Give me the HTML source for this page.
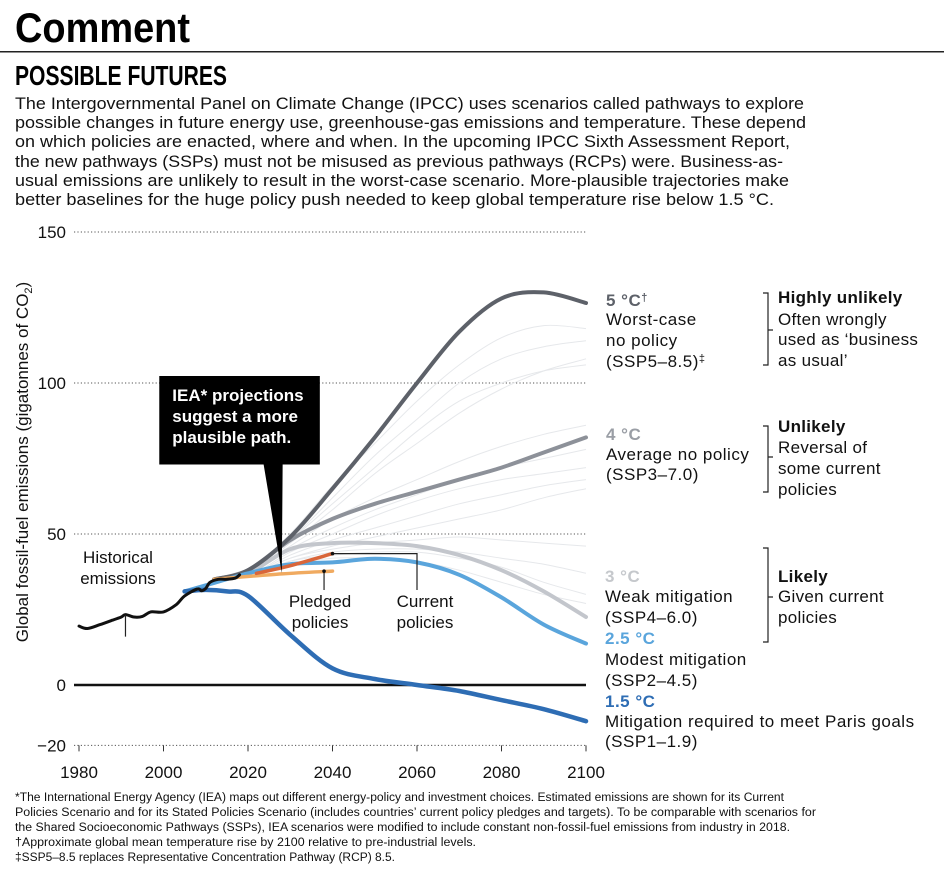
<!DOCTYPE html>
<html><head><meta charset="utf-8"><style>
html,body{margin:0;padding:0;background:#fff;}
svg{display:block;font-family:"Liberation Sans",sans-serif;}
</style></head><body>
<svg id="c" width="944" height="872" viewBox="0 0 944 872">
<text x="15" y="42" font-size="42" font-weight="bold" textLength="175" lengthAdjust="spacingAndGlyphs">Comment</text>
<rect x="0" y="51" width="944" height="1.5" fill="#222"/>
<text x="15" y="85" font-size="28" font-weight="bold" textLength="212" lengthAdjust="spacingAndGlyphs">POSSIBLE FUTURES</text>
<g font-size="17" fill="#111">
<text x="15" y="109" textLength="789" lengthAdjust="spacingAndGlyphs">The Intergovernmental Panel on Climate Change (IPCC) uses scenarios called pathways to explore</text>
<text x="15" y="128" textLength="791" lengthAdjust="spacingAndGlyphs">possible changes in future energy use, greenhouse-gas emissions and temperature. These depend</text>
<text x="15" y="147" textLength="775" lengthAdjust="spacingAndGlyphs">on which policies are enacted, where and when. In the upcoming IPCC Sixth Assessment Report,</text>
<text x="15" y="167" textLength="768" lengthAdjust="spacingAndGlyphs">the new pathways (SSPs) must not be misused as previous pathways (RCPs) were. Business-as-</text>
<text x="15" y="186" textLength="774" lengthAdjust="spacingAndGlyphs">usual emissions are unlikely to result in the worst-case scenario. More-plausible trajectories make</text>
<text x="15" y="205" textLength="759" lengthAdjust="spacingAndGlyphs">better baselines for the huge policy push needed to keep global temperature rise below 1.5 °C.</text>
</g>
<g id="grid"></g>
<g id="thin"></g>
<g id="main"></g>
<g id="ann"></g>
<text transform="translate(28,462) rotate(-90)" text-anchor="middle" font-size="17" fill="#111">Global fossil-fuel emissions (gigatonnes of CO<tspan font-size="11" dy="4">2</tspan><tspan dy="-4">)</tspan></text>

<g font-size="17" letter-spacing="0.5" fill="#111">
<text x="606" y="306" font-weight="bold" fill="#5d6169">5 °C<tspan font-size="11" dy="-5">†</tspan></text>
<text x="606" y="325">Worst-case</text><text x="606" y="346">no policy</text><text x="606" y="367">(SSP5–8.5)<tspan font-size="11" dy="-5">‡</tspan></text>
<text x="606" y="440" font-weight="bold" fill="#9a9ea5">4 °C</text>
<text x="606" y="460">Average no policy</text><text x="606" y="480">(SSP3–7.0)</text>
<text x="605" y="582" font-weight="bold" fill="#c5c8cc">3 °C</text>
<text x="605" y="602">Weak mitigation</text><text x="605" y="623">(SSP4–6.0)</text>
<text x="605" y="644" font-weight="bold" fill="#5aa5dc">2.5 °C</text>
<text x="605" y="665">Modest mitigation</text><text x="605" y="686">(SSP2–4.5)</text>
<text x="605" y="707" font-weight="bold" fill="#2e6db4">1.5 °C</text>
<text x="605" y="727">Mitigation required to meet Paris goals</text><text x="605" y="747">(SSP1–1.9)</text>
</g>
<g font-size="17" letter-spacing="0.3" fill="#111">
<text x="778" y="303" font-weight="bold">Highly unlikely</text>
<text x="778" y="325">Often wrongly</text><text x="778" y="345">used as ‘business</text><text x="778" y="366">as usual’</text>
<text x="778" y="432" font-weight="bold">Unlikely</text>
<text x="778" y="453">Reversal of</text><text x="778" y="474">some current</text><text x="778" y="495">policies</text>
<text x="778" y="582" font-weight="bold">Likely</text>
<text x="778" y="602">Given current</text><text x="778" y="623">policies</text>
</g>
<g fill="none" stroke="#222" stroke-width="1.2">
<path d="M763 293H768V365H763M768 330H773"/>
<path d="M763 426H768V492H763M768 457H773"/>
<path d="M763 548H768V642H763M768 597H773"/>
</g>
<g font-size="11.5" fill="#111">
<text x="15" y="801" textLength="769" lengthAdjust="spacingAndGlyphs">*The International Energy Agency (IEA) maps out different energy-policy and investment choices. Estimated emissions are shown for its Current</text>
<text x="15" y="816" textLength="801" lengthAdjust="spacingAndGlyphs">Policies Scenario and for its Stated Policies Scenario (includes countries’ current policy pledges and targets). To be comparable with scenarios for</text>
<text x="15" y="831" textLength="775" lengthAdjust="spacingAndGlyphs">the Shared Socioeconomic Pathways (SSPs), IEA scenarios were modified to include constant non-fossil-fuel emissions from industry in 2018.</text>
<text x="15" y="846" textLength="461" lengthAdjust="spacingAndGlyphs">†Approximate global mean temperature rise by 2100 relative to pre-industrial levels.</text>
<text x="15" y="861" textLength="380" lengthAdjust="spacingAndGlyphs">‡SSP5–8.5 replaces Representative Concentration Pathway (RCP) 8.5.</text>
</g>
</svg>
<script>
const yTicks=[150,100,50,0,-20];
const xTicks=[1980,2000,2020,2040,2060,2080,2100];
const decades=[2020,2030,2040,2050,2060,2070,2080,2090,2100];
const ssp585=[38,49,65,82,100,117,128,130,126.5];
const ssp370=[38,48,55,60,64,68,72,77,82];
const ssp460=[37,45,47,47,46,43,38,31,22.5];
const ssp245Years=[2005,2010,2020,2030,2040,2050,2060,2070,2080,2090,2100];
const ssp245=[31,33,37,40,40.6,41.8,40.6,36.5,29,20,13.7];
const ssp119Years=[2005,2010,2015,2020,2030,2040,2050,2060,2070,2080,2090,2100];
const ssp119=[31,31.5,31,29.5,16.6,5.5,2,0,-2,-5,-8,-12];
const histYears=[1980,1982,1985,1988,1990,1991,1993,1995,1997,2000,2003,2005,2008,2009,2010,2011,2013,2015,2017,2018];
const hist=[19.5,18.7,20,21.5,22.5,23.3,22.5,22.7,24.2,24.2,26.6,29.5,31.8,31.2,32,34,35,35,35.4,36.5];
const pledgedYears=[2012,2028,2040];
const pledged=[35,36.8,37.7];
const currentYears=[2022,2030,2040];
const current=[37,39.5,43.5];
const thinEnds=[
 [38,50,66,80,94,106,115,119,118],
 [37,48,62,76,88,100,108,112,114],
 [37,47,58,70,80,90,98,104,108],
 [38,48,60,72,84,94,100,104,106],
 [37,46,55,62,68,74,79,83,86],
 [37,45,52,58,63,68,72,75,78],
 [36,44,50,56,61,65,68,70,72],
 [36,43,48,52,56,60,63,66,68],
 [36,42,46,49,52,55,58,62,65],
 [36,42,45,47,48,49,48,47,46],
 [36,41,44,45,45,44,42,40,37],
 [36,41,43,44,44,42,39,34,30],
 [36,40,42,42,41,38,34,30,27]
];
const NS='http://www.w3.org/2000/svg';
const x=v=>79+(v-1980)*(586-79)/120;
const y=v=>685-v*(685-232)/150;
function mk(tag,at,parent){const e=document.createElementNS(NS,tag);for(const k in at)e.setAttribute(k,at[k]);parent.appendChild(e);return e;}
function smooth(xs,vs){const p=xs.map((t,i)=>[x(t),y(vs[i])]);let d='M'+p[0][0].toFixed(1)+' '+p[0][1].toFixed(1);
 for(let i=0;i<p.length-1;i++){const p0=p[i-1]||p[i],p1=p[i],p2=p[i+1],p3=p[i+2]||p2;
 const c1=[p1[0]+(p2[0]-p0[0])/6,p1[1]+(p2[1]-p0[1])/6],c2=[p2[0]-(p3[0]-p1[0])/6,p2[1]-(p3[1]-p1[1])/6];
 d+=`C${c1[0].toFixed(1)} ${c1[1].toFixed(1)} ${c2[0].toFixed(1)} ${c2[1].toFixed(1)} ${p2[0].toFixed(1)} ${p2[1].toFixed(1)}`;}return d;}
const grid=document.getElementById('grid');
yTicks.forEach(t=>{
 if(t!==0){const l=mk('line',{x1:74,x2:586,y1:y(t),y2:y(t),stroke:'#555','stroke-width':1,'stroke-dasharray':'1.2 2.2'},grid);
 
 }
 const tx=mk('text',{x:66,y:y(t)+6,'text-anchor':'end','font-size':17,fill:'#111'},grid);tx.textContent=t<0?'−'+(-t):t;
 
 
});
xTicks.forEach(t=>{
 const l=mk('line',{x1:x(t),x2:x(t),y1:y(-20),y2:y(-20)+6,stroke:'#333','stroke-width':1},grid);
 
 
 const tx=mk('text',{x:x(t),y:778,'text-anchor':'middle','font-size':17,fill:'#111'},grid);tx.textContent=t;
 
 
});
const thin=document.getElementById('thin');
thinEnds.forEach(s=>{const p=mk('path',{d:smooth([2012].concat(decades),[35].concat(s)),fill:'none',stroke:'#e6e8eb','stroke-width':1},thin);
 
 });
const main=document.getElementById('main');
const z=mk('line',{x1:74,x2:586,y1:y(0),y2:y(0),stroke:'#111','stroke-width':2.5},main);


function series(name,xs,vs,col,w){const p=mk('path',{d:smooth(xs,vs),fill:'none',stroke:col,'stroke-width':w,'stroke-linecap':'round','stroke-linejoin':'round'},main);
 
 }
series('ssp4-6.0-line',[2012].concat(decades),[35].concat(ssp460),'#c3c6cc',4);
series('ssp3-7.0-line',[2012].concat(decades),[35].concat(ssp370),'#8d9199',4);
series('ssp5-8.5-line',[2012].concat(decades),[35].concat(ssp585),'#5d6169',4);
series('ssp2-4.5-line',ssp245Years,ssp245,'#5aa5dc',4);
series('ssp1-1.9-line',ssp119Years,ssp119,'#2e6db4',4.5);
series('pledged-policies-line',pledgedYears,pledged,'#f0aa60',3.5);
series('current-policies-line',currentYears,current,'#d9663a',3.5);
series('historical-emissions-line',histYears,hist,'#111',3);
const ann=document.getElementById('ann');
function ln(name,d){const p=mk('path',{d:d,fill:'none',stroke:'#222','stroke-width':1.2},ann);
 
 }
function txt(name,xx,yy,s){const t=mk('text',{x:xx,y:yy,'text-anchor':'middle','font-size':17,fill:'#111'},ann);t.textContent=s;
 
 }
const hx=x(1991),pl=x(2038),cu=x(2040),cl=x(2060);
ln('historical-pointer',`M${hx} ${y(23.3)}V${y(23.3)+22}`);
txt('historical-label',118,563,'Historical');txt('historical-label-2',118,584,'emissions');
ln('pledged-pointer',`M${pl} ${y(37.7)}V590`);
mk('circle',{cx:pl,cy:y(37.7),r:1.8,fill:'#111'},ann);
txt('pledged-label',pl-4,607,'Pledged');txt('pledged-label-2',pl-4,628,'policies');
ln('current-pointer',`M${cu} ${y(43.5)}H${cl}V590`);
mk('circle',{cx:cu,cy:y(43.5),r:1.8,fill:'#111'},ann);
txt('current-label',cl+8,607,'Current');txt('current-label-2',cl+8,628,'policies');
const b1=x(1999),b2=x(2037),bt=y(102.3),bb=y(73);
const box=mk('path',{d:`M${b1} ${bt}H${b2}V${bb}H${x(2028.2)}L${x(2028)} ${y(37.1)}L${x(2023.7)} ${bb}H${b1}Z`,fill:'#000'},ann);


['IEA* projections','suggest a more','plausible path.'].forEach((s,i)=>{const t=mk('text',{x:b1+13,y:bt+25+i*21,'font-size':17,'font-weight':'bold',fill:'#fff'},ann);t.textContent=s;
 
 });
</script>
</body></html>
